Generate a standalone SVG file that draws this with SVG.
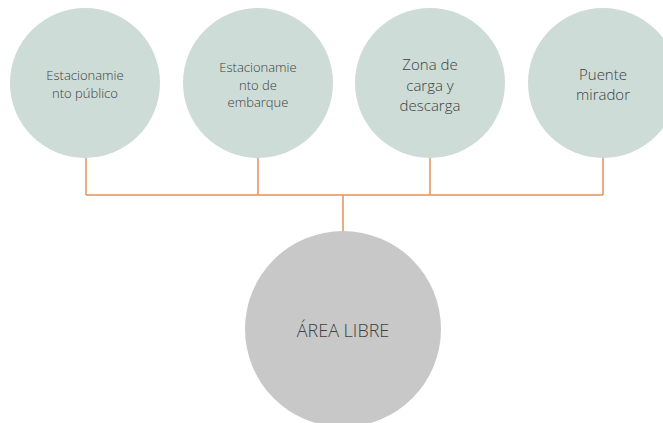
<svg xmlns="http://www.w3.org/2000/svg" width="663" height="423" viewBox="0 0 663 423">
<style>
.top{fill:#cddcd6}
.bot{fill:#c8c8c8}
.conn{stroke:#e2935c;stroke-width:1.5;fill:none}
text{font-family:"Open Sans","Liberation Sans",sans-serif;font-weight:300;fill:#404040;text-anchor:middle;dominant-baseline:central}
.s{font-size:13px}
.m{font-size:15px}
.l{font-size:18px}
</style>
<rect width="663" height="423" fill="#ffffff"/>
<g id="connectors">
<path class="conn" d="M86 158V195M258 158V195M430 158V195M603 158V195M86 195H603M343 195V231"/>
</g>
<g id="n1">
<circle class="top" cx="85" cy="83" r="75"/>
<text class="s" x="85" y="75">Estacionamie</text>
<text class="s" x="85" y="93">nto público</text>
</g>
<g id="n2">
<circle class="top" cx="258" cy="83" r="75"/>
<text class="s" x="258" y="67">Estacionamie</text>
<text class="s" x="258" y="85">nto de</text>
<text class="s" x="258" y="102">embarque</text>
</g>
<g id="n3">
<circle class="top" cx="430" cy="83" r="75"/>
<text class="m" x="430" y="64">Zona de</text>
<text class="m" x="430" y="85">carga y</text>
<text class="m" x="430" y="105">descarga</text>
</g>
<g id="n4">
<circle class="top" cx="603" cy="83" r="75"/>
<text class="m" x="603" y="74">Puente</text>
<text class="m" x="603" y="94">mirador</text>
</g>
<g id="n5">
<circle class="bot" cx="343" cy="329" r="98"/>
<text class="l" x="343" y="330">ÁREA LIBRE</text>
</g>
</svg>
